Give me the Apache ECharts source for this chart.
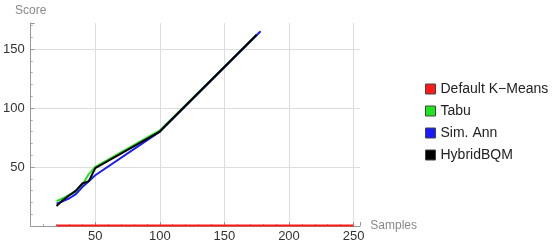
<!DOCTYPE html>
<html>
<head>
<meta charset="utf-8">
<script src="https://cdn.jsdelivr.net/npm/echarts@6/dist/echarts.min.js"></script>
<style>
  html, body { margin: 0; padding: 0; background: #fff; }
  #chart { width: 553px; height: 245px; }
</style>
</head>
<body>
<div id="chart"></div>
<script>
// series names
var names = ['Default K\u2212Means', 'Tabu', 'Sim. Ann', 'HybridBQM'];
var colors = ['#ff1a1a', '#1ee61e', '#1a1aff', '#000000'];

// [samples, score]
var kmeans = [
  [20, 0.4], [50, 0.4], [100, 0.4], [150, 0.4], [200, 0.4], [250, 0.4]
];
var tabu = [
  [20, 21], [25, 23.5], [30, 26.5], [35, 29], [40, 35], [45, 44], [50, 50], [100, 81], [175, 162]
];
var simAnn = [
  [20, 19], [25, 21], [30, 23.5], [35, 27], [40, 33], [45, 38], [50, 43], [100, 80], [178, 165]
];
var hybrid = [
  [20, 17], [25, 22], [30, 26], [35, 30], [40, 36], [45, 38], [50, 49], [100, 80], [175, 162]
];

var chart = echarts.init(document.getElementById('chart'));

function line(idx, data) {
  return {
    name: names[idx],
    type: 'line',
    data: data,
    symbol: 'none',
    animation: false,
    lineStyle: { color: colors[idx], width: 2 },
    itemStyle: { color: colors[idx] }
  };
}

var option = {
  backgroundColor: '#fff',
  textStyle: { fontFamily: 'Liberation Sans, Arial, sans-serif' },
  grid: { left: 28, right: 193, top: 23, bottom: 19 },
  legend: {
    orient: 'vertical',
    left: 420,
    top: 77,
    itemWidth: 10,
    itemHeight: 10,
    itemGap: 8,
    icon: 'rect',
    data: names,
    itemStyle: { borderColor: '#444', borderWidth: 1 },
    textStyle: { fontSize: 14, color: '#222', fontFamily: 'Liberation Sans, Arial, sans-serif' }
  },
  xAxis: {
    type: 'value',
    min: 0,
    max: 255,
    interval: 50,
    name: 'Samples',
    nameLocation: 'end',
    nameGap: 8,
    nameTextStyle: { color: '#888', fontSize: 12 },
    axisLine: { onZero: false, lineStyle: { color: '#999' } },
    axisTick: { inside: true, length: 4, lineStyle: { color: '#999' } },
    minorTick: { show: true, splitNumber: 5, length: 2, lineStyle: { color: '#aaa' } },
    axisLabel: { color: '#333', fontSize: 13, margin: 4, showMaxLabel: false, showMinLabel: false },
    splitLine: { show: true, showMaxLine: false, showMinLine: false, lineStyle: { color: '#ddd' } }
  },
  yAxis: {
    type: 'value',
    min: 0,
    max: 172,
    interval: 50,
    name: 'Score',
    nameLocation: 'end',
    nameGap: 6,
    nameTextStyle: { color: '#888', fontSize: 12, align: 'center' },
    axisLine: { show: true, onZero: false, lineStyle: { color: '#999' } },
    axisTick: { show: true, inside: true, length: 4, lineStyle: { color: '#999' } },
    minorTick: { show: true, splitNumber: 5, length: 2, lineStyle: { color: '#aaa' } },
    axisLabel: { color: '#333', fontSize: 13, margin: 6, showMaxLabel: false, showMinLabel: false },
    splitLine: { show: true, showMaxLine: false, showMinLine: false, lineStyle: { color: '#ddd' } }
  },
  series: [
    line(0, kmeans),
    line(1, tabu),
    line(2, simAnn),
    line(3, hybrid)
  ]
};

chart.setOption(option);
</script>
</body>
</html>
